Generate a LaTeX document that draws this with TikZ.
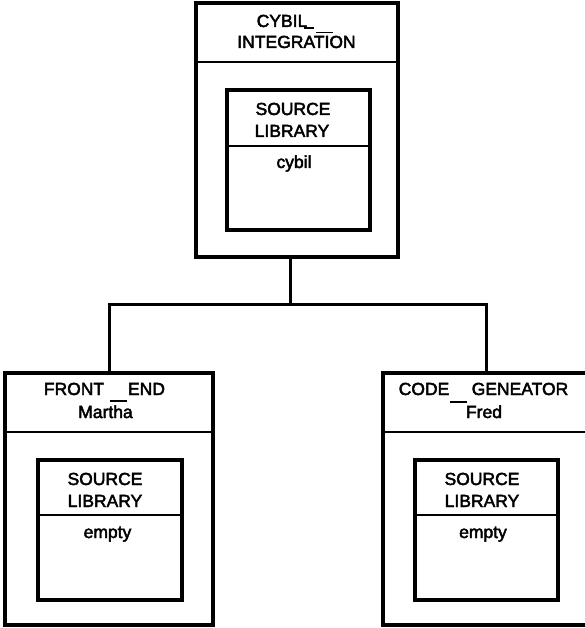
\documentclass[tikz,border=0pt]{standalone}
\usepackage{fontspec}
\setmainfont{Liberation Sans}
% slightly heavier glyphs: fill and stroke the outlines
\newcommand\heavytext{\special{pdf:code 2 Tr 0.45 w}}
\begin{document}
\begin{tikzpicture}[x=1pt,y=-1pt,
  box/.style={draw,line width=3.4pt,inner sep=0pt,rectangle},
  rule/.style={line width=2.4pt},
  wire/.style={line width=3pt},
  lbl/.style={anchor=base,inner sep=0pt,font=\fontsize{17.5}{20}\selectfont,
    execute at begin node=\heavytext},
  bar/.style={line width=1.3pt}]
\useasboundingbox (0,0) rectangle (585,628);

% top unit: CYBIL_INTEGRATION
\node[box,minimum width=202pt,minimum height=254pt] (top) at (297,130) {};
\draw[rule] (top.west |- 0,62) -- (top.east |- 0,62);
\node[lbl] (t1) at (282,27) {CYBIL};
\node[lbl] (t2) at (296.5,48) {INTEGRATION};
\draw[bar] (304,28) -- (314,28);
\draw[bar] (316,32.5) -- (333,32.5);
\node[box,minimum width=143pt,minimum height=140pt] (tlib) at (298.5,160) {};
\draw[rule] (tlib.west |- 0,146) -- (tlib.east |- 0,146);
\node[lbl] (tl1) at (293,115) {SOURCE};
\node[lbl] (tl2) at (292,137) {LIBRARY};
\node[lbl] (tl3) at (294,168) {cybil};

% left unit: FRONT_END
\node[box,minimum width=208pt,minimum height=252pt] (left) at (109,499) {};
\draw[rule] (left.west |- 0,432) -- (left.east |- 0,432);
\node[lbl] (l1) at (74,395) {FRONT};
\node[lbl] (l2) at (146.5,395) {END};
\draw[bar] (110,401) -- (127,401);
\node[lbl] (l3) at (105.5,418) {Martha};
\node[box,minimum width=144pt,minimum height=140pt] (llib) at (110,530) {};
\draw[rule] (llib.west |- 0,515) -- (llib.east |- 0,515);
\node[lbl] (ll1) at (105,485) {SOURCE};
\node[lbl] (ll2) at (105,507) {LIBRARY};
\node[lbl] (ll3) at (107.5,538) {empty};

% right unit: CODE_GENEATOR
\node[box,minimum width=206pt,minimum height=252pt] (right) at (486,499) {};
\draw[rule] (right.west |- 0,432) -- (right.east |- 0,432);
\node[lbl] (r1) at (424,395) {CODE};
\node[lbl] (r2) at (520,395) {GENEATOR};
\draw[bar] (450,402) -- (467,402);
\node[lbl] (r3) at (484,418) {Fred};
\node[box,minimum width=143pt,minimum height=140pt] (rlib) at (486.5,530) {};
\draw[rule] (rlib.west |- 0,515) -- (rlib.east |- 0,515);
\node[lbl] (rl1) at (482,485) {SOURCE};
\node[lbl] (rl2) at (482,507) {LIBRARY};
\node[lbl] (rl3) at (483,538) {empty};

% tree connectors
\coordinate (j) at (290,304);
\draw[wire] (top.south -| j) -- (j);
\draw[wire,line cap=rect] (left.north) -- (left.north |- j) -- (right.north |- j) -- (right.north);
\end{tikzpicture}
\end{document}
